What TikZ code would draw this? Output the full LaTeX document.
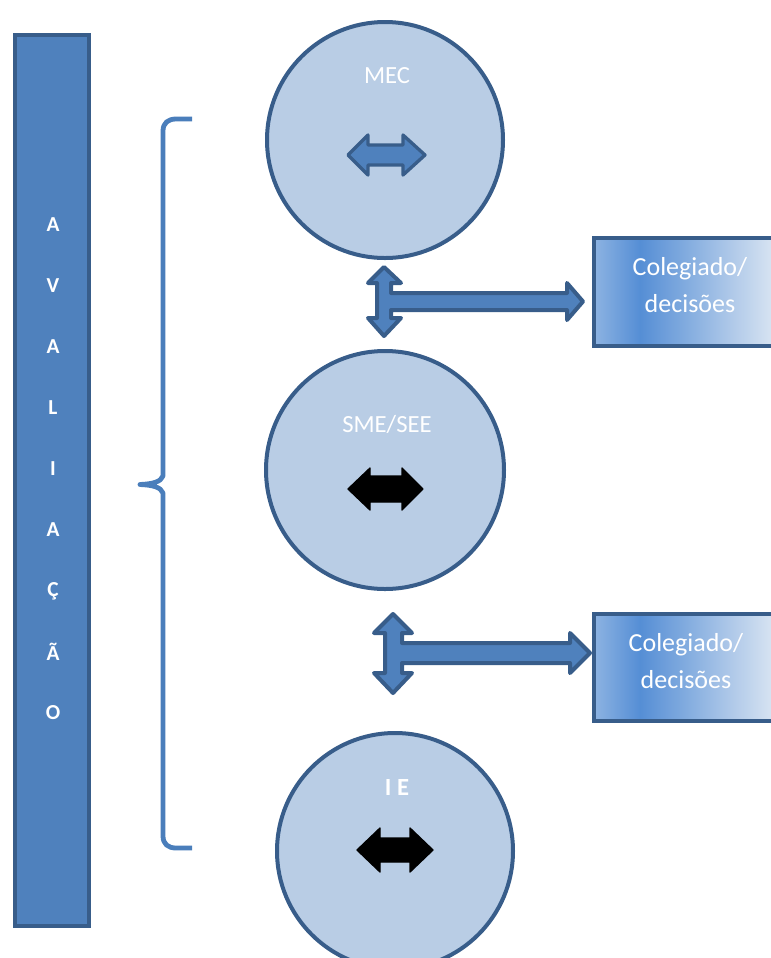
\documentclass[tikz,border=0pt]{standalone}
\usepackage{fontspec}
\setmainfont{Carlito}
\definecolor{edgeblue}{HTML}{385D8A}
\definecolor{fillblue}{HTML}{4F81BD}
\definecolor{lightfill}{HTML}{B9CDE5}
\definecolor{bracecol}{HTML}{4A7EBB}
\definecolor{gradA}{HTML}{8DB3E2}
\definecolor{gradB}{HTML}{558ED5}
\definecolor{gradC}{HTML}{DDE7F3}
\pgfdeclarehorizontalshading{boxshade}{100bp}{color(0bp)=(gradA); color(25bp)=(gradA); color(37.5bp)=(gradB); color(75bp)=(gradC); color(100bp)=(gradC)}
\tikzset{
  bigcircle/.style={draw=edgeblue, fill=lightfill, line width=3pt},
  crossarrow/.style={draw=edgeblue, fill=fillblue, line width=3pt, line join=round},
  smallarrow/.style={draw=edgeblue, fill=fillblue, line width=2.5pt, line join=round},
  blackarrow/.style={draw=black, fill=black, line width=1pt, line join=round},
  decbox/.style={draw=edgeblue, shading=boxshade, line width=3pt},
  whitetext/.style={text=white, inner sep=0pt, font=\fontsize{18.5}{22}\selectfont},
  boxtext/.style={text=white, inner sep=0pt, align=center, font=\fontsize{19.5}{27.5}\selectfont},
  lettertext/.style={text=white, inner sep=0pt, font=\fontsize{16}{19}\selectfont\bfseries},
}
\begin{document}
\begin{tikzpicture}[x=0.75pt,y=-0.75pt]
\useasboundingbox (0,0) rectangle (771,958);
\clip (0,0) rectangle (771,958);
% left bar
\draw[draw=edgeblue, fill=fillblue, line width=3.5pt] (15,35) rectangle (89,926);
\foreach \l/\yy [count=\i] in {A/225,V/286,A/347,L/408,I/469,A/530,Ç/591,Ã/652,O/713}
  \node[lettertext] (L\i) at (53,\yy) {\l};
% brace
\draw[draw=bracecol, line width=3.6pt, line join=round, line cap=butt]
  (192,119) -- (176,119) .. controls (168,119) and (163,123) .. (163,131)
  -- (163,476) .. controls (161,482) and (152,484) .. (140,484.5)
  .. controls (152,485) and (161,487) .. (163,493)
  -- (163,836) .. controls (163,844) and (168,848) .. (176,848) -- (192,848);
% circles
\draw[bigcircle] (385,140) circle[radius=118];
\draw[bigcircle] (385,470) circle[radius=119];
\draw[bigcircle] (395,851) circle[radius=118];
\node[whitetext] (mec) at (387,76) {MEC};
\node[whitetext] (sme) at (387,424) {SME/SEE};
\node[whitetext, font=\fontsize{18.5}{22}\selectfont\bfseries] (ie) at (397,787) {I E};
% small double arrows
\draw[smallarrow] (348,155) -- (368,135) -- (368,145) -- (403,145) -- (403,135) -- (425,155)
  -- (403,175) -- (403,165) -- (368,165) -- (368,175) -- cycle;
\draw[blackarrow] (348,489) -- (370,468) -- (370,476) -- (402,476) -- (402,468) -- (423,489)
  -- (402,510) -- (402,502) -- (370,502) -- (370,510) -- cycle;
\draw[blackarrow] (357,850) -- (380,828) -- (380,838) -- (410,838) -- (410,828) -- (433,850)
  -- (410,872) -- (410,862) -- (380,862) -- (380,872) -- cycle;
% cross arrows
\draw[crossarrow] (384,267) -- (401,283) -- (391,283) -- (391,293) -- (567,293) -- (567,283)
  -- (583,301.5) -- (567,320) -- (567,310) -- (391,310) -- (391,318) -- (401,318)
  -- (384,336) -- (368,318) -- (377,318) -- (377,283) -- (368,283) -- cycle;
\draw[crossarrow] (393,614) -- (412,633) -- (402,633) -- (402,643) -- (570,643) -- (570,633)
  -- (590,653) -- (570,673) -- (570,663) -- (402,663) -- (402,673) -- (412,673)
  -- (393,693) -- (374,673) -- (385,673) -- (385,633) -- (374,633) -- cycle;
% boxes
\draw[decbox] (594,238) rectangle (778,346);
\draw[decbox] (594,614) rectangle (778,721);
\node[boxtext] (col1) at (690,285) {Colegiado/\\decisões};
\node[boxtext] (col2) at (686,661) {Colegiado/\\decisões};
\end{tikzpicture}
\end{document}
